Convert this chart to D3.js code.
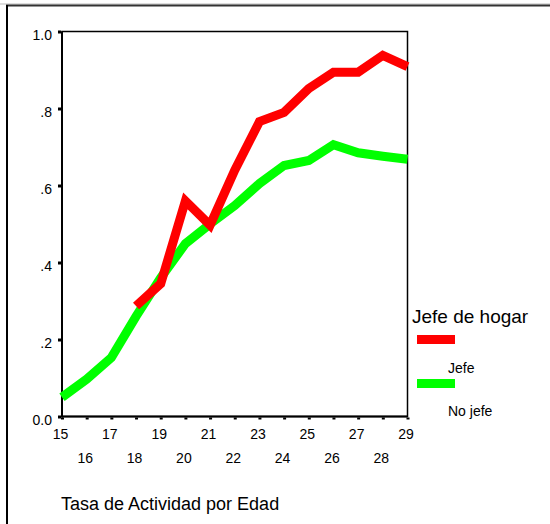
<!DOCTYPE html>
<html><head><meta charset="utf-8">
<script src="https://cdn.jsdelivr.net/npm/d3@7"></script>
<style>
html,body{margin:0;padding:0;background:#fff;}
text{font-family:"Liberation Sans",Arial,sans-serif;fill:#000;}
</style></head>
<body>
<svg id="c" width="550" height="524"></svg>
<script>
const ages = [15,16,17,18,19,20,21,22,23,24,25,26,27,28,29];
const jefeAges = [18,19,20,21,22,23,24,25,26,27,28,29];
const jefeValues = [0.287,0.345,0.56,0.497,0.64,0.766,0.79,0.852,0.894,0.894,0.938,0.909];
const noJefeValues = [0.05,0.097,0.153,0.26,0.36,0.449,0.50,0.548,0.605,0.652,0.665,0.706,0.685,0.676,0.668];
const yTicks = [0,0.2,0.4,0.6,0.8,1.0];
const yTickLabels = ["0.0",".2",".4",".6",".8","1.0"];
const seriesNames = ["Jefe","No jefe"];
const seriesColors = ["#ff0000","#00ff00"];
const legendTitle = "Jefe de hogar";
const chartTitle = "Tasa de Actividad por Edad";

const svg = d3.select("#c");
// outer frame
svg.append("line").attr("x1",0).attr("x2",550).attr("y1",4).attr("y2",4).attr("stroke","#bbb").attr("stroke-width",1);
svg.append("line").attr("x1",6).attr("x2",550).attr("y1",5.5).attr("y2",5.5).attr("stroke","#333").attr("stroke-width",2);
svg.append("line").attr("x1",7).attr("x2",7).attr("y1",5).attr("y2",524).attr("stroke","#000").attr("stroke-width",2);

const L=62, R=407.5, T=31.5, B=416.5;
const x = d3.scaleLinear().domain([15,29]).range([L,R]);
const y = d3.scaleLinear().domain([0,1]).range([B,T]);

// plot frame
svg.append("rect").attr("x",L).attr("y",T).attr("width",R-L).attr("height",B-T)
  .attr("fill","none").attr("stroke","#000").attr("stroke-width",1.5);
svg.append("line").attr("x1",L).attr("x2",L).attr("y1",T).attr("y2",B+1).attr("stroke","#000").attr("stroke-width",2);
svg.append("line").attr("x1",L).attr("x2",R).attr("y1",B).attr("y2",B).attr("stroke","#000").attr("stroke-width",2);

// y axis
const yAxis = d3.axisLeft(y).tickValues(yTicks).tickSize(3).tickPadding(6)
  .tickFormat((d,i)=>yTickLabels[i]);
const gy = svg.append("g").attr("transform",`translate(${L-1},0)`).call(yAxis);
gy.select(".domain").remove();
gy.selectAll(".tick line").attr("stroke","#000").attr("stroke-width",3);
gy.selectAll(".tick text").attr("font-size",14).attr("dy","0.55em").attr("x",-9)
  .style("font-family","'Liberation Sans',Arial,sans-serif");

// x axis
const xAxis = d3.axisBottom(x).tickValues(ages).tickSize(2).tickPadding(0).tickFormat(d3.format("d"));
const gx = svg.append("g").attr("transform",`translate(0,${B+1})`).call(xAxis);
gx.select(".domain").remove();
gx.selectAll(".tick line").attr("stroke","#000").attr("stroke-width",3);
gx.selectAll(".tick text").attr("font-size",14).attr("dy",0)
  .attr("x",-2)
  .attr("y",d=> (d%2===1)?21:45)
  .style("font-family","'Liberation Sans',Arial,sans-serif");

// lines
const line = d3.line().x(d=>x(d[0])).y(d=>y(d[1]));
svg.append("path").datum(ages.map((a,i)=>[a,noJefeValues[i]]))
  .attr("d",line).attr("fill","none").attr("stroke",seriesColors[1]).attr("stroke-width",9)
  .attr("stroke-linejoin","miter").attr("stroke-linecap","butt");
svg.append("path").datum(jefeAges.map((a,i)=>[a,jefeValues[i]]))
  .attr("d",line).attr("fill","none").attr("stroke",seriesColors[0]).attr("stroke-width",9)
  .attr("stroke-linejoin","miter").attr("stroke-linecap","butt");

// legend
svg.append("text").attr("x",412).attr("y",323).attr("font-size",19).text(legendTitle);
seriesNames.forEach((n,i)=>{
  const oy = i*44;
  svg.append("rect").attr("x",417).attr("y",335+oy).attr("width",38).attr("height",9).attr("fill",seriesColors[i]);
  svg.append("text").attr("x",448).attr("y",373+oy-(i?1:0)).attr("font-size",14).text(n);
});

// title
svg.append("text").attr("x",61).attr("y",510).attr("font-size",18).text(chartTitle);
</script>
</body></html>
